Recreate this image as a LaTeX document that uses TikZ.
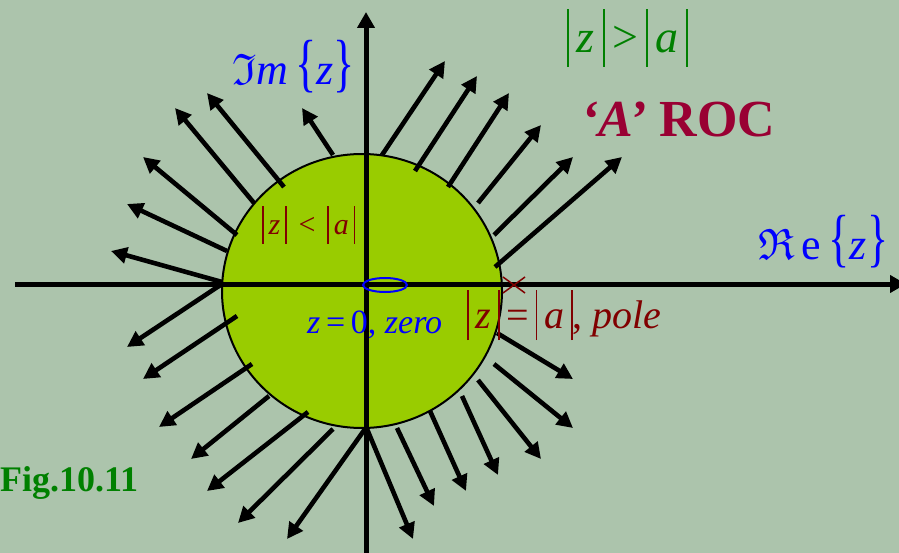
\documentclass[tikz,border=0pt]{standalone}
\usepackage{amssymb}
\usepackage{graphicx}
\usepackage{fontspec}
\setmainfont{Liberation Serif}
\usetikzlibrary{arrows.meta}

% scalable fraktur for the axis names
\DeclareFontFamily{U}{euf}{}
\DeclareFontShape{U}{euf}{m}{n}{<->eufm10}{}

\definecolor{slide}{RGB}{172,196,172}
\definecolor{rocfill}{RGB}{153,204,0}
\definecolor{rocred}{RGB}{153,0,51}
\definecolor{polered}{RGB}{128,0,0}
\definecolor{figgreen}{RGB}{0,128,0}

\newcommand{\absbar}{\rule[-0.3em]{0.045em}{1.25em}}
\newcommand{\magn}[1]{\absbar\,\textit{#1}\,\absbar}
\newcommand{\bigbrace}[1]{\scalebox{1}[1.45]{#1}}

\begin{document}
\begin{tikzpicture}[
    x=1pt, y=-1pt,
    every node/.style={inner sep=0pt, anchor=base west},
    axis/.style={
        draw,
        line width=5pt,
        -{Triangle[length=16pt,width=17pt]}
    },
    ray/.style={
        draw,
        line width=4.6pt,
        -{Triangle[length=16pt,width=16pt]}
    },
    disk/.style={
        draw,
        fill=rocfill,
        line width=2pt
    }
]

    % --- Frame ---
    \fill[slide] (0,0) rectangle (899,553);
    \useasboundingbox (0,0) rectangle (899,553);

    % --- Region |z| < |a| ---
    \draw[disk] (362,291) ellipse [x radius=140, y radius=137];

    % --- Axes ---
    \coordinate (west) at (15,284);
    \coordinate (east) at (906,284);
    \coordinate (south) at (366,553);
    \coordinate (north) at (366,12);
    \path[axis] (west) -- (east);
    \path[axis] (south) -- (north);

    % --- ROC rays (start / tip) ---
    \foreach \sx/\sy/\ex/\ey in {
        333/155/302/108, 284/187/207/93, 254/203/175/108,
        237/235/143/157, 227/251/127/204, 222/282/111/251,
        382/155/445/61, 415/171/477/76, 448/187/509/93,
        478/203/541/125, 494/235/573/157, 495/267/622/157,
        222/284/127/347, 237/316/143/379, 252/364/159/427,
        269/396/191/459, 308/412/207/491, 333/429/238/523,
        365/429/287/539, 367/429/413/539, 397/428/434/506,
        430/411/466/491, 462/396/498/475, 478/380/541/459,
        494/364/573/428, 497/333/573/379}
        \path[ray] (\sx,\sy) -- (\ex,\ey);

    % --- Zero and pole ---
    \draw[blue, line width=2pt] (385,285) ellipse [x radius=22, y radius=7];
    \coordinate (pole) at (514,285);
    \draw[polered, line width=1.5pt] ([shift={(-11,-8)}]pole) -- ([shift={(11,8)}]pole)
        ([shift={(-11,8)}]pole) -- ([shift={(11,-8)}]pole);

    % --- Labels ---
    \node[blue, font=\fontsize{44}{48}\selectfont] (imname) at (232,85)
        {$\mathfrak{I}$\textit{m}\,\bigbrace{\{}\textit{z}\bigbrace{\}}};
    \node[blue, font=\fontsize{44}{48}\selectfont] (rename) at (758,260)
        {$\mathfrak{R}$\,e\,\bigbrace{\{}\textit{z}\bigbrace{\}}};
    \node[figgreen, font=\fontsize{46}{50}\selectfont] (outside) at (567,53)
        {\magn{z}\,\textgreater\,\magn{a}};
    \node[rocred, font=\fontsize{52}{56}\selectfont\bfseries] (roc) at (581,137)
        {\textit{‘A’} ROC};
    \node[polered, font=\fontsize{30}{34}\selectfont] (inside) at (262,235)
        {\magn{z}\hspace{0.4em}\textless\hspace{0.4em}\magn{a}};
    \node[blue, font=\fontsize{34}{38}\selectfont] (zero) at (307,333)
        {\textit{z}\,=\,0, \textit{zero}};
    \node[polered, font=\fontsize{40}{44}\selectfont] (polelabel) at (467,328)
        {\magn{z}\,=\,\magn{a}, \textit{pole}};
    \node[figgreen, font=\fontsize{36}{40}\selectfont\bfseries] (fig) at (0,491)
        {Fig.10.11};

\end{tikzpicture}
\end{document}
